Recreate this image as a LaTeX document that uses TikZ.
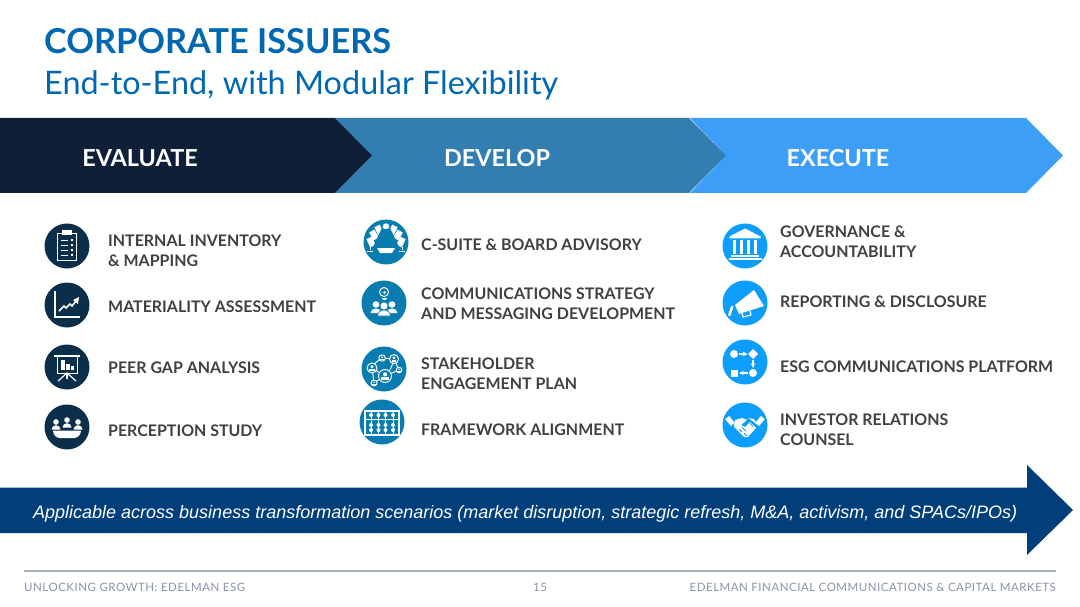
\documentclass[tikz,border=0pt]{standalone}
\usepackage{fontspec}
\setmainfont{Lato}
\newfontfamily\armfont{Liberation Sans}
\newfontfamily\footfont[LetterSpace=4.5]{Lato}
\usepackage{xcolor}
\usetikzlibrary{shapes.geometric, arrows, positioning}

\definecolor{titleblue}{HTML}{0067B1}
\definecolor{navyband}{HTML}{0F1F38}
\definecolor{midband}{HTML}{337EB0}
\definecolor{skyband}{HTML}{3D9EF8}
\definecolor{navyicon}{HTML}{0B2F4A}
\definecolor{tealicon}{HTML}{0A7DB0}
\definecolor{skyicon}{HTML}{0D9DFC}
\definecolor{basearrow}{HTML}{003F7A}
\definecolor{bodygray}{HTML}{404040}
\definecolor{footgray}{HTML}{8A93AB}
\definecolor{footline}{HTML}{A9B0C0}

% Icon glyphs, drawn round the centre of a disc
\newcommand{\glyphclip}{
  \draw[glyphline] (-9.5,-13) rectangle (9.5,14);
  \fill[white] (-5,-16) rectangle (5,-10.5);
  \foreach \yy in {-6,-1,4,9} {
    \draw[glyphline] (-6,\yy) -- (1,\yy);
    \fill[white] (3.5,\yy-1) rectangle (6,\yy+1);
  }
}
\newcommand{\glyphchart}{
  \draw[glyphline, line width=1.3pt] (-12,-14) -- (-12,12) -- (13,12);
  \draw[glyphline, line width=1.5pt] (-8,6) -- (-3,1) -- (-1,3) -- (3,-1) -- (5,1) -- (9,-4);
  \fill[white] (12,-8) -- (11,-1) -- (6,-5) -- cycle;
}
\newcommand{\glyphboard}{
  \draw[glyphline, line width=1.3pt] (-13,-11) -- (13,-11);
  \draw[glyphline] (-10,-11) rectangle (10,6);
  \fill[white] (-6,-7) rectangle (-2.5,3);
  \fill[white] (-1,-3) rectangle (2.5,3);
  \fill[white] (4,-1) rectangle (7,3);
  \draw[glyphline, line width=1.2pt] (-9,14) -- (0,6) -- (9,14);
  \draw[glyphline, line width=1.2pt] (0,6) -- (0,12);
}
\newcommand{\glyphteam}{
  \foreach \xx/\yy in {-11/-5, 0/-7, 11/-5} {
    \fill[white] (\xx,\yy) circle (2.8);
    \fill[white] (\xx-4.5,\yy+7.5) to[out=90,in=180] (\xx,\yy+3.2) to[out=0,in=90] (\xx+4.5,\yy+7.5) -- cycle;
  }
  \fill[white] (-14,3.5) -- (14,3.5) to[out=-90,in=0] (7,11) -- (-7,11) to[out=180,in=-90] cycle;
}
\newcommand{\glyphtable}{
  \foreach \xx/\yy/\aa in {-15/0/25, -12/-7/30, -7/-12/25, 7/-12/-25, 12/-7/-30, 15/0/-25} {
    \fill[white, rotate around={\aa:(\xx,\yy)}] (\xx-3,\yy-4.5) rectangle (\xx+3,\yy+4.5);
  }
  \fill[white] (0,-15.5) circle (3.2);
  \fill[tealicon] (-4.5,-13) -- (4.5,-13) -- (13,5) -- (-13,5) -- cycle;
  \fill[white] (-9,6) -- (9,6) -- (6,11) -- (-6,11) -- cycle;
  \draw[glyphline] (-16,5) -- (-16,8) (-19,9) -- (-13,9);
  \draw[glyphline] (16,5) -- (16,8) (13,9) -- (19,9);
}
\newcommand{\glyphpeople}{
  \draw[glyphline] (0,-11) circle (4.5);
  \draw[glyphline] (-1.5,-11) -- (1.5,-11) (0,-12.5) -- (0,-9.5);
  \draw[glyphline] (-2.5,-5) -- (2.5,-5) (-1.5,-3.5) -- (1.5,-3.5);
  \foreach \xx/\yy/\rr in {-8/1.5/3.3, 8/1.5/3.3, 0/3/3.6} {
    \fill[white] (\xx,\yy) circle (\rr);
  }
  \fill[white] (-13.5,10) to[out=90,in=180] (-8,5.5) to[out=0,in=90] (-2.5,10) -- cycle;
  \fill[white] (13.5,10) to[out=90,in=0] (8,5.5) to[out=180,in=90] (2.5,10) -- cycle;
  \fill[white, draw=tealicon, line width=0.7pt] (-6.5,13) to[out=90,in=180] (0,7) to[out=0,in=90] (6.5,13) -- cycle;
}
\newcommand{\glyphnet}{
  \draw[glyphline] (-12,-1) to[bend left=15] (-2,-11) -- (10,-10) -- (15,1) -- (1,7) -- (-10,14) -- (-12,-1) -- (1,7) to[bend right=15] (10,-10);
  \foreach \xx/\yy/\rr in {-12/-1/5, -2/-11/3.2, 10/-10/4.5, 15/1/2.8, 1/7/6.5, -10/14/3} {
    \fill[tealicon] (\xx,\yy) circle (\rr);
    \draw[glyphline] (\xx,\yy) circle (\rr);
    \fill[white] (\xx,\yy-0.25*\rr) circle (0.32*\rr);
    \fill[white] (\xx-0.55*\rr,\yy+0.6*\rr) rectangle (\xx+0.55*\rr,\yy+0.2*\rr);
  }
}
\newcommand{\glyphabacus}{
  \draw[glyphline, line width=1.6pt] (-17,-11) rectangle (17,13);
  \draw[glyphline] (-16,-3) -- (16,-3);
  \foreach \xx in {-11,-3.5,3.5,11} {
    \draw[glyphline] (\xx,-11) -- (\xx,13);
    \fill[white] (\xx,-7) circle (2);
    \fill[white] (\xx,3) circle (2);
    \fill[white] (\xx,8) circle (2);
  }
}
\newcommand{\glyphbank}{
  \fill[white] (0,-17.5) -- (15.5,-9.5) -- (15.5,-7.5) -- (-15.5,-7.5) -- (-15.5,-9.5) -- cycle;
  \foreach \xx in {-10.5,-3.5,3.5,10.5} {
    \fill[white] (\xx-1.8,-6) rectangle (\xx+1.8,8);
  }
  \fill[white] (-14,9) rectangle (14,11);
  \fill[white] (-16.5,12) rectangle (16.5,14);
}
\newcommand{\glyphhorn}{
  \fill[white] (-10,2) -- (9,-13) -- (19,3) -- (-6,11) -- cycle;
  \fill[white, rotate around={-20:(-14,8)}] (-15.5,3) rectangle (-13,13);
  \draw[glyphline, line width=1.2pt] (-3,10) -- (-2,14) -- (6,12) -- (5,8);
}
\newcommand{\glyphflow}{
  \fill[white] (-11,-8) circle (4);
  \fill[white] (8,-13) -- (13,-8) -- (8,-3) -- (3,-8) -- cycle;
  \fill[white] (8,11) circle (4);
  \fill[white] (-14.5,7.5) rectangle (-7.5,14.5);
  \draw[glyphline, line width=1.1pt, -stealth] (-6,-8) -- (2.5,-8);
  \draw[glyphline, line width=1.1pt, -stealth] (8,-2) -- (8,6);
  \draw[glyphline, line width=1.1pt, -stealth] (3,11) -- (-6,11);
}
\newcommand{\glyphshake}{
  \fill[white, rotate around={40:(-15,-4)}] (-17.5,-8.5) rectangle (-12.5,0.5);
  \fill[white, rotate around={-40:(15,-4)}] (12.5,-8.5) rectangle (17.5,0.5);
  \fill[white] (-10,-5) -- (-3,-7) -- (2,-5) -- (-4,0) -- (0,2) -- (5,-3) -- (11,3) -- (3,12) -- (-1,12) -- (-11,2) -- cycle;
  \fill[white] (3,-7) -- (9,-6) -- (11.5,-1) -- (6,-5) -- cycle;
  \draw[skyicon, line width=0.8pt] (-6,4) -- (-3,7) (-3,2) -- (1,6) (-1,8) -- (2,11) (5,-2) -- (8,2);
}

\begin{document}
\begin{tikzpicture}[
    x=1pt, y=-1pt,
    bandtext/.style={font=\fontsize{23.4}{28}\selectfont\bfseries, text=white, anchor=center, inner sep=0pt},
    disc/.style={circle, minimum size=45pt, inner sep=0pt},
    navydisc/.style={disc, fill=navyicon},
    tealdisc/.style={disc, fill=tealicon},
    skydisc/.style={disc, fill=skyicon},
    itemtext/.style={font=\fontsize{15.95}{20}\selectfont\bfseries, text=bodygray, anchor=west, align=left, inner sep=0pt},
    foottext/.style={font=\footfont\fontsize{11.5}{14}\selectfont, text=footgray, inner sep=0pt},
    glyphline/.style={draw=white, line width=0.9pt}
]
\useasboundingbox (0,0) rectangle (1080,607);

% Title
\node[font=\fontsize{34.3}{40}\selectfont\bfseries, text=titleblue, anchor=west, inner sep=0pt] (title) at (44,41) {CORPORATE ISSUERS};
\node[font=\fontsize{32.4}{36}\selectfont, text=titleblue, anchor=west, inner sep=0pt] (subtitle) at (44,85) {End-to-End, with Modular Flexibility};

% Chevron band
\fill[skyband] (690,118) -- (1026,118) -- (1063,155.5) -- (1026,193) -- (690,193) -- (726,155.5) -- cycle;
\fill[midband] (335,118) -- (689,118) -- (726,155.5) -- (689,193) -- (335,193) -- (372,155.5) -- cycle;
\fill[navyband] (0,118) -- (335,118) -- (372,155.5) -- (335,193) -- (0,193) -- cycle;
\node[bandtext] (evaluate) at (140,158.5) {EVALUATE};
\node[bandtext] (develop) at (497,158.5) {DEVELOP};
\node[bandtext] (execute) at (838,158.5) {EXECUTE};

% Evaluate column
\node[navydisc] (e1) at (67,246) {};
\node[navydisc] (e2) at (67,305) {};
\node[navydisc] (e3) at (67,367) {};
\node[navydisc] (e4) at (67,427) {};
\begin{scope}[shift={(e1.center)}] \glyphclip \end{scope}
\begin{scope}[shift={(e2.center)}] \glyphchart \end{scope}
\begin{scope}[shift={(e3.center)}] \glyphboard \end{scope}
\begin{scope}[shift={(e4.center)}] \glyphteam \end{scope}
\node[itemtext] (e1t) at (108,251) {INTERNAL INVENTORY\\\& MAPPING};
\node[itemtext] (e2t) at (108,307) {MATERIALITY ASSESSMENT};
\node[itemtext] (e3t) at (108,368) {PEER GAP ANALYSIS};
\node[itemtext] (e4t) at (108,431) {PERCEPTION STUDY};

% Develop column
\node[tealdisc] (d1) at (386,242) {};
\node[tealdisc] (d2) at (384,303) {};
\node[tealdisc] (d3) at (384,369) {};
\node[tealdisc] (d4) at (382,422) {};
\begin{scope}[shift={(d1.center)}] \glyphtable \end{scope}
\begin{scope}[shift={(d2.center)}] \glyphpeople \end{scope}
\begin{scope}[shift={(d3.center)}] \glyphnet \end{scope}
\begin{scope}[shift={(d4.center)}] \glyphabacus \end{scope}
\node[itemtext] (d1t) at (421,245) {C-SUITE \& BOARD ADVISORY};
\node[itemtext] (d2t) at (421,304) {COMMUNICATIONS STRATEGY\\AND MESSAGING DEVELOPMENT};
\node[itemtext] (d3t) at (421,374) {STAKEHOLDER\\ENGAGEMENT PLAN};
\node[itemtext] (d4t) at (421,430) {FRAMEWORK ALIGNMENT};

% Execute column
\node[skydisc] (x1) at (745,246) {};
\node[skydisc] (x2) at (745,303) {};
\node[skydisc] (x3) at (745,362) {};
\node[skydisc] (x4) at (745,425) {};
\begin{scope}[shift={(x1.center)}] \glyphbank \end{scope}
\begin{scope}[shift={(x2.center)}] \glyphhorn \end{scope}
\begin{scope}[shift={(x3.center)}] \glyphflow \end{scope}
\begin{scope}[shift={(x4.center)}] \glyphshake \end{scope}
\node[itemtext] (x1t) at (780,242) {GOVERNANCE \&\\ACCOUNTABILITY};
\node[itemtext] (x2t) at (780,302) {REPORTING \& DISCLOSURE};
\node[itemtext] (x3t) at (780,367) {ESG COMMUNICATIONS PLATFORM};
\node[itemtext] (x4t) at (780,430) {INVESTOR RELATIONS\\COUNSEL};

% Bottom arrow
\fill[basearrow] (0,487.5) -- (1027,487.5) -- (1027,465) -- (1073,510) -- (1027,555) -- (1027,533) -- (0,533) -- cycle;
\node[font=\armfont\itshape\fontsize{18}{22}\selectfont, text=white, anchor=west, inner sep=0pt] (scenarios) at (33,513.7) {Applicable across business transformation scenarios (market disruption, strategic refresh, M\&A, activism, and SPACs/IPOs)};

% Footer
\draw[footline, line width=1.2pt] (24,571) -- (1056,571);
\node[foottext, anchor=west] (footleft) at (24,587) {UNLOCKING GROWTH: EDELMAN ESG};
\node[foottext] (footpage) at (540,587) {15};
\node[foottext, anchor=east] (footright) at (1056,587) {EDELMAN FINANCIAL COMMUNICATIONS \& CAPITAL MARKETS};
\end{tikzpicture}
\end{document}
